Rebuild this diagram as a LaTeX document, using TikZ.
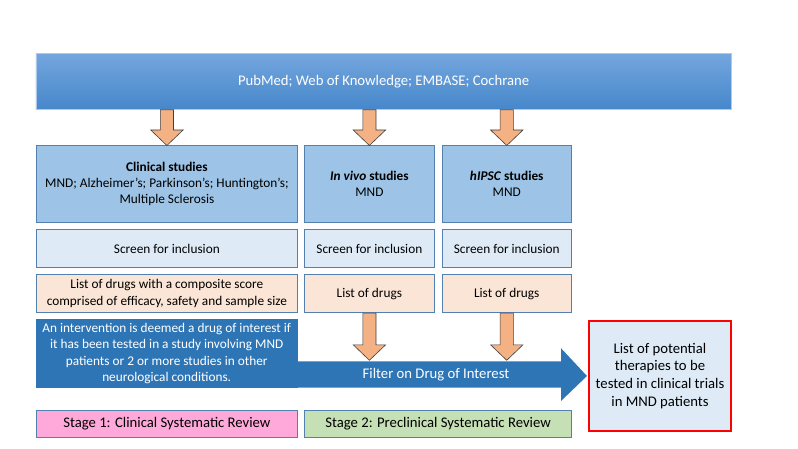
\documentclass[tikz,border=0pt]{standalone}
\usepackage{fontspec}
\setmainfont{Carlito}
\usetikzlibrary{calc}
\definecolor{bantop}{RGB}{116,166,222}
\definecolor{banbot}{RGB}{70,135,202}
\definecolor{studyfill}{RGB}{157,195,230}
\definecolor{screenfill}{RGB}{222,235,247}
\definecolor{listfill}{RGB}{251,229,214}
\definecolor{darkblue}{RGB}{46,117,182}
\definecolor{orangefill}{RGB}{244,177,131}
\definecolor{pinkfill}{RGB}{255,168,218}
\definecolor{greenfill}{RGB}{197,224,180}
\definecolor{bordc}{RGB}{84,128,176}
\newcommand\fsm{\fontsize{13.3}{16.3}\selectfont}
\newcommand\flg{\fontsize{14.7}{17.9}\selectfont}
\newcommand\blkarrow[2]{%
  \filldraw[orangearrow] let \p1=(#1), \p2=(#2) in
    (\x1-6.6pt,\y1) -- (\x1+6.6pt,\y1) -- (\x1+6.6pt,\y2+15.5pt) -- (\x1+16.2pt,\y2+15.5pt)
    -- (\x1,\y2) -- (\x1-16.2pt,\y2+15.5pt) -- (\x1-6.6pt,\y2+15.5pt) -- cycle;}
\begin{document}
\begin{tikzpicture}[x=1pt,y=-1pt,
  box/.style={draw=bordc, line width=0.8pt, inner sep=0pt, align=center, anchor=north west, font=\fsm},
  studybox/.style={box, fill=studyfill, minimum height=76.2pt},
  screenbox/.style={box, fill=screenfill, minimum height=38.3pt},
  listbox/.style={box, fill=listfill, minimum height=38.3pt},
  stagebox/.style={box, font=\flg, minimum height=27.3pt},
  orangearrow/.style={fill=orangefill, draw=black!75, line width=0.6pt}]
\useasboundingbox (0,0) rectangle (798,449);

% top banner
\node[anchor=north west, inner sep=0pt, minimum width=695.3pt, minimum height=56pt,
  top color=bantop, bottom color=banbot, draw=bantop!60!white, line width=0.5pt,
  text=white, font=\flg] (banner) at (35.7,53.3) {PubMed; Web of Knowledge; EMBASE; Cochrane};

% study boxes
\node[studybox, minimum width=261.6pt] (clin) at (35.7,145.5)
  {\textbf{Clinical studies}\\MND; Alzheimer’s; Parkinson’s; Huntington’s;\\Multiple Sclerosis};
\node[studybox, minimum width=130pt] (vivo) at (304,145.5)
  {\textbf{\textit{In vivo}} \textbf{studies}\\MND};
\node[studybox, minimum width=129.3pt] (hipsc) at (441.7,145.5)
  {\textbf{\textit{hIPSC}} \textbf{studies}\\MND};

% screen boxes
\node[screenbox, minimum width=261.6pt] (clinscr) at (35.7,229) {Screen for inclusion};
\node[screenbox, minimum width=130pt] (vivscr) at (304,229) {Screen for inclusion};
\node[screenbox, minimum width=129.3pt] (hipscr) at (441.7,229) {Screen for inclusion};

% list boxes
\node[listbox, minimum width=261.6pt] (clinlist) at (35.7,274)
  {List of drugs with a composite score\\comprised of efficacy, safety and sample size};
\node[listbox, minimum width=130pt] (vivlist) at (304,274) {List of drugs};
\node[listbox, minimum width=129.3pt] (hiplist) at (441.7,274) {List of drugs};

% final box
\node[anchor=north west, inner sep=0pt, minimum width=142pt, minimum height=110pt,
  fill=screenfill, draw=red, line width=2pt, align=center, font=\flg] (final) at (588,320)
  {List of potential\\therapies to be\\tested in clinical trials\\in MND patients};

% intervention box
\node[anchor=north west, inner sep=0pt, minimum width=261.6pt, minimum height=68.7pt,
  fill=darkblue, text=white, align=center, font=\fsm] (interv) at (35.7,319)
  {An intervention is deemed a drug of interest if\\it has been tested in a study involving MND\\patients or 2 or more studies in other\\neurological conditions.};

% filter band with arrowhead
\coordinate (bandtop) at (297.3,361.3);
\coordinate (bandbot) at (297.3,387.7);
\coordinate (headbase) at (561,374.5);
\fill[darkblue] (bandtop) -- (bandtop -| headbase) -- ($(headbase)+(0,-26.3)$) -- ($(final.west)+(-1,0)$)
  -- ($(headbase)+(0,26.5)$) -- (bandbot -| headbase) -- (bandbot) -- cycle;
\node[text=white, font=\flg, inner sep=0pt] (filter) at (436,375) {Filter on Drug of Interest};

% stage boxes
\node[stagebox, fill=pinkfill, minimum width=261.6pt] (stage1) at (35.7,410) {Stage 1: Clinical Systematic Review};
\node[stagebox, fill=greenfill, minimum width=267.3pt] (stage2) at (304,410) {Stage 2: Preclinical Systematic Review};

% block arrows
\blkarrow{banner.south -| clin.north}{clin.north}
\blkarrow{banner.south -| vivo.north}{vivo.north}
\blkarrow{banner.south -| hipsc.north}{hipsc.north}
\blkarrow{vivlist.south}{$(vivlist.south |- bandtop)+(0,-1)$}
\blkarrow{hiplist.south}{$(hiplist.south |- bandtop)+(0,-1)$}
\end{tikzpicture}
\end{document}
